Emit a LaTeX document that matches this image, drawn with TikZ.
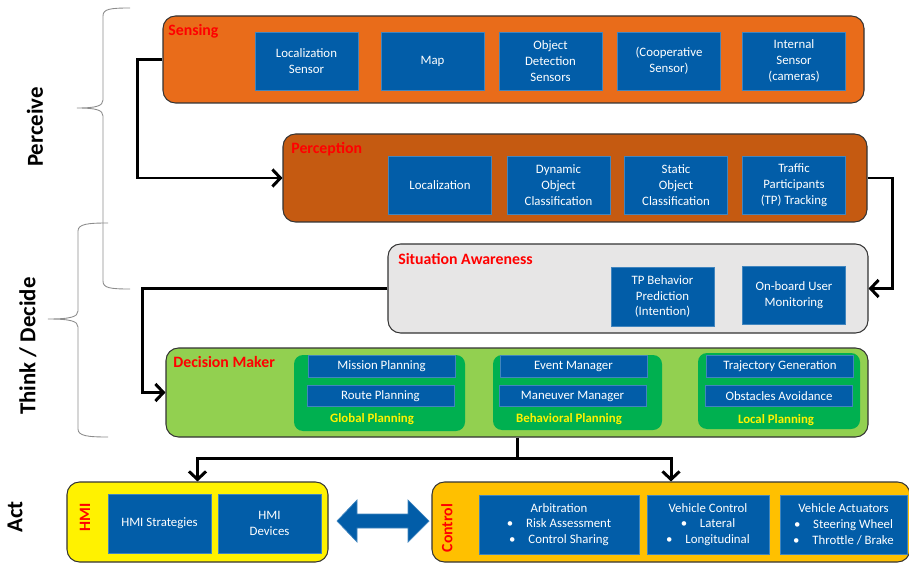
\documentclass[tikz,border=0pt]{standalone}
\usepackage{fontspec}
\setmainfont{Carlito}
\usetikzlibrary{fit,arrows.meta}
\definecolor{blu}{RGB}{2,93,168}
\definecolor{sensorange}{RGB}{233,108,26}
\definecolor{percorange}{RGB}{197,90,17}
\definecolor{awaregray}{RGB}{231,230,230}
\definecolor{lightgreen}{RGB}{146,208,80}
\definecolor{darkgreen}{RGB}{0,176,80}
\definecolor{gold}{RGB}{255,192,0}

\begin{document}
\begin{tikzpicture}[x = 0.02cm, y = -0.02cm,
	layer/.style = {draw = black!80, line width = 0.6pt, rounded corners = 0.25cm, inner sep = 0pt},
	plangroup/.style = {fill = darkgreen, rounded corners = 0.18cm, inner sep = 0pt},
	blk/.style = {fill = blu, draw = blu!75!white, line width = 0.4pt, text = white, align = center, inner sep = 0pt,
		minimum width = 2.06cm, minimum height = 1.16cm, font = \fontsize{7.3}{9}\selectfont},
	planitem/.style = {blk, minimum width = 2.94cm, minimum height = 0.43cm},
	ctrlblk/.style = {blk, minimum height = 1.18cm},
	layername/.style = {text = red, font = \bfseries\fontsize{9}{11}\selectfont, inner sep = 0pt},
	groupname/.style = {text = yellow, font = \bfseries\fontsize{7.3}{9}\selectfont, inner sep = 0pt},
	phase/.style = {font = \bfseries\fontsize{13}{15}\selectfont, rotate = 90, inner sep = 0pt},
	bracestyle/.style = {draw = black!45, line width = 0.5pt},
	flow/.style = {line width = 1.7pt, -{Straight Barb[length = 1.6mm, width = 3.4mm]}}]
	\useasboundingbox (0,0) rectangle (909,564);
	\clip (0,0) rectangle (909,564);

	\node[phase] (perceive) at (35,127) {Perceive};
	\node[phase] (think) at (28,346) {Think / Decide};
	\node[phase] (act) at (15,517) {Act};
	\draw[bracestyle] (130,8) .. controls (110,8) and (103,9) .. (103,16) -- (103,100)
		.. controls (103,106) and (96,108) .. (77,108) .. controls (96,108) and (103,110) .. (103,116)
		-- (103,281) .. controls (103,288) and (110,289) .. (130,289);
	\draw[bracestyle] (108,223) .. controls (88,223) and (78,224) .. (78,231) -- (78,311)
		.. controls (78,317) and (70,319) .. (48,319) .. controls (70,319) and (78,321) .. (78,327)
		-- (78,429) .. controls (78,436) and (88,437) .. (108,437);

	\node[layer, fill = sensorange, fit = {(163,16) (864,103)}] (sensing) {};
	\node[layername, anchor = west] (sensinglbl) at (168,31) {Sensing};
	\node[blk] (locsensor) at (306.5,61) {Localization\\Sensor};
	\node[blk] (map) at (432.5,61) {Map};
	\node[blk] (objdet) at (550.5,61) {Object\\Detection\\Sensors};
	\node[blk] (coop) at (669,61) {(Cooperative\\Sensor)};
	\node[blk] (internal) at (794,61) {Internal\\Sensor\\(cameras)};

	\node[layer, fill = percorange, fit = {(283,134) (867,222)}] (perception) {};
	\node[layername, anchor = west] (perceptionlbl) at (291,149) {Perception};
	\node[blk] (localization) at (440,185) {Localization};
	\node[blk] (dynamic) at (558.5,185) {Dynamic\\Object\\Classification};
	\node[blk] (static) at (676,185) {Static\\Object\\Classification};
	\node[blk] (tracking) at (794,185) {Traffic\\Participants\\(TP) Tracking};

	\node[layer, fill = awaregray, fit = {(388,244) (868,333)}] (situation) {};
	\node[layername, anchor = west] (situationlbl) at (398,259) {Situation Awareness};
	\node[ctrlblk] (tpbehavior) at (662.5,296.5) {TP Behavior\\Prediction\\(Intention)};
	\node[blk] (onboard) at (794,295) {On-board User\\Monitoring};

	\node[layer, fill = lightgreen, fit = {(166,348) (868,437)}] (decision) {};
	\node[layername, anchor = west] (decisionlbl) at (173,362) {Decision Maker};
	\node[plangroup, fit = {(294,355) (465,431)}] (global) {};
	\node[plangroup, fit = {(493,355) (662,430)}] (behavioral) {};
	\node[plangroup, fit = {(698,353) (860,429)}] (local) {};
	\node[planitem] (mission) at (381.5,366.5) {Mission Planning};
	\node[planitem] (route) at (380.5,396) {Route Planning};
	\node[planitem] (event) at (573.5,366.5) {Event Manager};
	\node[planitem] (maneuver) at (572.5,396) {Maneuver Manager};
	\node[planitem] (trajectory) at (780,366.5) {Trajectory Generation};
	\node[planitem] (obstacles) at (779,396) {Obstacles Avoidance};
	\node[groupname] (globallbl) at (372,419) {Global Planning};
	\node[groupname] (behaviorallbl) at (569,419) {Behavioral Planning};
	\node[groupname] (locallbl) at (776,420) {Local Planning};

	\node[layer, fill = yellow, fit = {(67,482) (328,562)}] (hmi) {};
	\node[layername, rotate = 90] (hmilbl) at (85,517) {HMI};
	\node[ctrlblk] (hmistrat) at (159.5,523.5) {HMI Strategies};
	\node[ctrlblk] (hmidev) at (269.5,523.5) {HMI\\Devices};

	\node[layer, fill = gold, fit = {(432,482) (910,562)}] (control) {};
	\node[layername, rotate = 90] (controllbl) at (447,528) {Control};
	\node[ctrlblk, minimum width = 3.2cm] (arbitration) at (559,524.5) {Arbitration\\\textbullet\quad Risk Assessment\\\textbullet\quad Control Sharing};
	\node[ctrlblk, minimum width = 2.44cm] (vehcontrol) at (708,524.5) {Vehicle Control\\\textbullet\quad Lateral\\\textbullet\quad Longitudinal};
	\node[ctrlblk, minimum width = 2.54cm] (actuators) at (843.5,524.5) {Vehicle Actuators\\\textbullet\quad Steering Wheel\\\textbullet\quad Throttle / Brake};

	\filldraw[fill = blu, draw = blu!75!white, line width = 0.4pt] (337,521) -- (357,500) -- (357,514) -- (408,514) -- (408,500) -- (429,521)
		-- (408,542) -- (408,528) -- (357,528) -- (357,542) -- cycle;

	\draw[flow] (sensing.west) -- ++(-25,0) |- (perception.west);
	\draw[flow] (perception.east) -- ++(25,0) |- (situation.east);
	\draw[flow] (situation.west) -- ++(-245,0) |- (decision.west);
	\draw[flow] (decision.south) -- ++(0,21) -| (hmi.north);
	\draw[flow] (decision.south) -- ++(0,21) -| (control.north);
\end{tikzpicture}
\end{document}
